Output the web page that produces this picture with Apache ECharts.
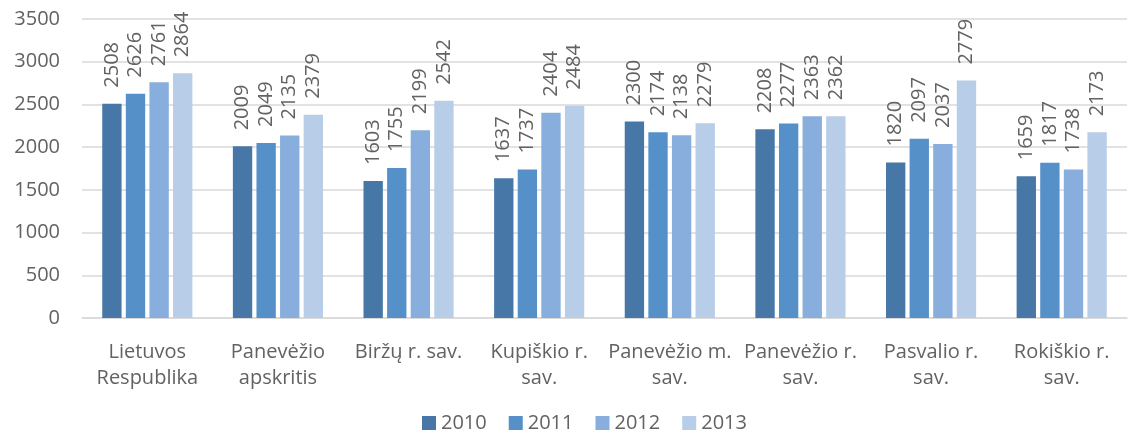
<!DOCTYPE html>
<html>
<head>
<meta charset="utf-8">
<script src="https://cdn.jsdelivr.net/npm/echarts@6/dist/echarts.min.js"></script>
<style>
  html, body { margin: 0; padding: 0; background: #fff; }
  #chart { width: 1131px; height: 434px; }
</style>
</head>
<body>
<div id="chart"></div>
<script>
// data
var categories = ['Lietuvos\nRespublika', 'Panevėžio\napskritis', 'Biržų r. sav.', 'Kupiškio r.\nsav.',
    'Panevėžio m.\nsav.', 'Panevėžio r.\nsav.', 'Pasvalio r.\nsav.', 'Rokiškio r.\nsav.'];
var years = ['2010', '2011', '2012', '2013'];
var v2010 = [2508, 2009, 1603, 1637, 2300, 2208, 1820, 1659];
var v2011 = [2626, 2049, 1755, 1737, 2174, 2277, 2097, 1817];
var v2012 = [2761, 2135, 2199, 2404, 2138, 2363, 2037, 1738];
var v2013 = [2864, 2379, 2542, 2484, 2279, 2362, 2779, 2173];
var colors = ['#4677A6', '#5590C9', '#87AEDC', '#B8CDE7'];

var font = '"Open Sans", "DejaVu Sans", sans-serif';
var txt = '#626262';

function mkSeries(name, values, i) {
    return {
        name: name,
        type: 'bar',
        data: values,
        barGap: '22%',
        barCategoryGap: '31%',
        itemStyle: { color: colors[i] },
        label: {
            show: true,
            position: 'top',
            rotate: 90,
            align: 'left',
            verticalAlign: 'middle',
            distance: 16,
            color: txt,
            fontFamily: font,
            fontSize: 20
        }
    };
}

var myChart = echarts.init(document.getElementById('chart'));
var option = {
    animation: false,
    color: colors,
    grid: { left: 82, right: 4, top: 19, bottom: 116, containLabel: false },
    legend: {
        top: 408,
        left: 417,
        itemWidth: 14,
        itemHeight: 14,
        itemGap: 22,
        icon: 'rect',
        textStyle: { color: txt, fontFamily: font, fontSize: 20 },
        data: years
    },
    xAxis: {
        type: 'category',
        data: categories,
        axisLine: { lineStyle: { color: '#d9d9d9', width: 1.5 } },
        axisTick: { show: false },
        axisLabel: {
            color: txt,
            fontFamily: font,
            fontSize: 20,
            lineHeight: 26,
            margin: 21,
            interval: 0
        }
    },
    yAxis: {
        type: 'value',
        min: 0,
        max: 3500,
        interval: 500,
        axisLine: { show: false },
        axisTick: { show: false },
        splitLine: { lineStyle: { color: '#d9d9d9', width: 1.5 } },
        axisLabel: {
            color: txt, fontFamily: font, fontSize: 20, margin: 22,
            formatter: function (v) { return String(v); }
        }
    },
    series: [
        mkSeries(years[0], v2010, 0),
        mkSeries(years[1], v2011, 1),
        mkSeries(years[2], v2012, 2),
        mkSeries(years[3], v2013, 3)
    ]
};
myChart.setOption(option);
</script>
</body>
</html>
